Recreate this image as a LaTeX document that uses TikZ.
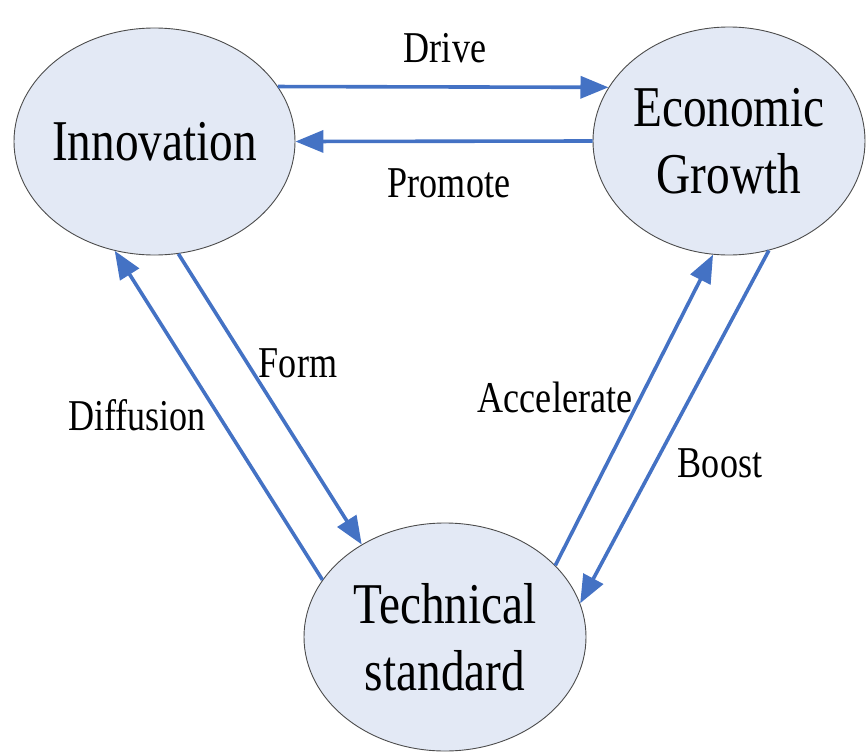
\documentclass[tikz,border=0pt]{standalone}
\usepackage{fontspec}
\setmainfont{Liberation Serif}
\newfontfamily\diagfont[FakeStretch=0.82]{Liberation Serif}
\usetikzlibrary{shapes.geometric, arrows.meta}
\definecolor{arrowblue}{RGB}{68,114,196}
\definecolor{bubblefill}{RGB}{227,233,245}
\begin{document}
\begin{tikzpicture}[x=1pt, y=-1pt,
      bubble/.style={ellipse, draw=black!70, line width=0.9pt, fill=bubblefill, inner sep=-20pt, align=center, font=\diagfont\fontsize{57.7}{67}\selectfont},
      link/.style={-{Triangle[length=28pt, width=22pt]}, draw=arrowblue, line width=3.6pt},
      tag/.style={anchor=base, inner sep=0pt, font=\diagfont\fontsize{44}{48}\selectfont}]
            \useasboundingbox (0, 0) rectangle (866, 752);
            \node[bubble, minimum width=281pt, minimum height=227pt] (innov) at (154.5, 141.5) {Innovation};
            \node[bubble, minimum width=272pt, minimum height=228pt] (econ) at (729, 141) {Economic\\Growth};
            \node[bubble, minimum width=282pt, minimum height=228pt] (tech) at (445, 637) {Technical\\standard};
            \node[tag] (drive) at (445, 63) {Drive};
            \node[tag] (promote) at (449, 197) {Promote};
            \node[tag] (form) at (298, 377) {Form};
            \node[tag] (diffusion) at (137, 430) {Diffusion};
            \node[tag] (accel) at (555, 412) {Accelerate};
            \node[tag] (boost) at (720, 477) {Boost};
            \draw[link] (innov.24) -- (econ.156);
            \draw[link] (econ.west) -- (innov.east);
            \draw[link] (innov.282) -- (tech.132);
            \draw[link] (tech.155) -- (innov.250);
            \draw[link] (tech.33) -- (econ.262);
            \draw[link] (econ.290) -- (tech.14);
\end{tikzpicture}
\end{document}
